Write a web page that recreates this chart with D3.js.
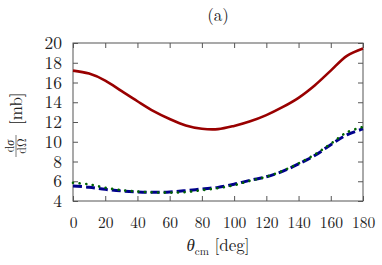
<!DOCTYPE html>
<html>
<head>
<meta charset="utf-8">
<script src="https://cdn.jsdelivr.net/npm/d3@7"></script>
<style>
  body { margin: 0; background: #fff; }
</style>
</head>
<body>
<svg id="chart" width="382" height="265"></svg>
<script>
// data
const theta = [0, 10, 20, 30, 40, 50, 60, 70, 80, 90, 100, 110, 120, 130, 140, 150, 160, 170, 180];
const redVals = [17.2, 16.9, 16.2, 15.15, 14.1, 13.1, 12.3, 11.65, 11.32, 11.28, 11.6, 12.07, 12.7, 13.5, 14.45, 15.7, 17.2, 18.7, 19.45];
const blueVals = [5.52, 5.4, 5.18, 5.02, 4.92, 4.88, 4.92, 5.05, 5.22, 5.38, 5.7, 6.1, 6.45, 7.0, 7.75, 8.6, 9.7, 10.7, 11.3];
const greenVals = [5.85, 5.68, 5.35, 5.1, 4.96, 4.88, 4.85, 4.9, 5.1, 5.3, 5.6, 6.05, 6.45, 7.05, 7.8, 8.7, 9.8, 10.95, 11.5];
const xTicks = [0, 20, 40, 60, 80, 100, 120, 140, 160, 180];
const yTicks = [4, 6, 8, 10, 12, 14, 16, 18, 20];

const FONT = "Latin Modern Roman";
const svg = d3.select("#chart");
const margin = {left: 73, right: 19, top: 43, bottom: 64};
const W = 382, H = 265;

const x = d3.scaleLinear().domain([0, 180]).range([margin.left, W - margin.right]);
const y = d3.scaleLinear().domain([4, 20]).range([H - margin.bottom, margin.top]);

const frameColor = "#555";

// frame
svg.append("rect")
    .attr("x", x(0)).attr("y", y(20))
    .attr("width", x(180) - x(0)).attr("height", y(4) - y(20))
    .attr("fill", "none").attr("stroke", frameColor).attr("stroke-width", 1);

// axes (ticks inward on all sides)
function styleAxis(size) {
    return g => {
        g.attr("font-family", FONT).attr("font-size", size);
        g.select(".domain").remove();
        g.selectAll(".tick line").attr("stroke", frameColor);
        g.selectAll(".tick text").attr("fill", "#222");
    };
}

svg.append("g")
    .attr("transform", `translate(0,${y(4)})`)
    .call(d3.axisBottom(x).tickValues(xTicks).tickSize(-5).tickPadding(16))
    .call(styleAxis(15.5));
svg.append("g")
    .attr("transform", `translate(0,${y(20)})`)
    .call(d3.axisTop(x).tickValues(xTicks).tickSize(-5).tickFormat(""))
    .call(styleAxis(15.5));
svg.append("g")
    .attr("transform", `translate(${x(0)},0)`)
    .call(d3.axisLeft(y).tickValues(yTicks).tickSize(-5).tickPadding(11))
    .call(styleAxis(17.5));
svg.append("g")
    .attr("transform", `translate(${x(180)},0)`)
    .call(d3.axisRight(y).tickValues(yTicks).tickSize(-5).tickFormat(""))
    .call(styleAxis(17.5));

// curves
const line = vals => d3.line()
    .x((d, i) => x(theta[i]))
    .y(d => y(d))
    .curve(d3.curveCatmullRom.alpha(0.5))(vals);

svg.append("path").attr("d", line(redVals))
    .attr("fill", "none").attr("stroke", "#990000").attr("stroke-width", 2.6);

svg.append("path").attr("d", line(blueVals))
    .attr("fill", "none").attr("stroke", "#00008b").attr("stroke-width", 3)
    .attr("stroke-dasharray", "9,4");

svg.append("path").attr("d", line(greenVals))
    .attr("fill", "none").attr("stroke", "#006400").attr("stroke-width", 2.6)
    .attr("stroke-linecap", "round")
    .attr("stroke-dasharray", "0.1,6.5");

// title
svg.append("text")
    .attr("x", 218).attr("y", 21)
    .attr("text-anchor", "middle")
    .attr("font-family", FONT).attr("font-size", 17)
    .attr("fill", "#222")
    .text("(a)");

// x label
const xl = svg.append("text")
    .attr("x", 218).attr("y", 251)
    .attr("text-anchor", "middle")
    .attr("fill", "#222")
    .attr("font-family", FONT).attr("font-size", 17);
xl.append("tspan").attr("font-style", "italic").text("θ");
xl.append("tspan").attr("dy", 4).attr("font-size", 11).text("cm");
xl.append("tspan").attr("dy", -4).text(" [deg]");

// y label (rotated fraction)
const yl = svg.append("g").attr("transform", "translate(16,157) rotate(-90)")
    .attr("font-family", FONT).attr("fill", "#222");
const num = yl.append("text").attr("x", 11).attr("y", -2.5)
    .attr("text-anchor", "middle").attr("font-size", 12);
num.append("tspan").text("d");
num.append("tspan").attr("font-style", "italic").text("σ");
yl.append("line").attr("x1", 0).attr("x2", 22).attr("y1", 0).attr("y2", 0)
    .attr("stroke", "#222").attr("stroke-width", 0.6);
yl.append("text").attr("x", 11).attr("y", 9.5)
    .attr("text-anchor", "middle").attr("font-size", 12).text("dΩ");
yl.append("text").attr("x", 32).attr("y", 6)
    .attr("font-size", 17).text("[mb]");
</script>
</body>
</html>
